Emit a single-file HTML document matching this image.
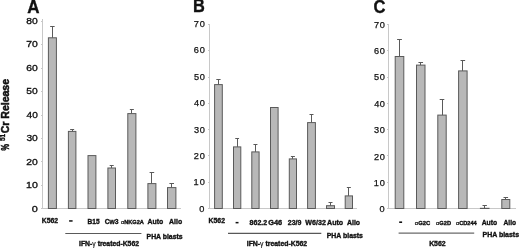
<!DOCTYPE html>
<html><head><meta charset="utf-8"><style>
html,body{margin:0;padding:0;background:#fff;}
body{width:520px;height:250px;overflow:hidden;}
svg{display:block;-webkit-font-smoothing:antialiased;will-change:transform;font-family:"Liberation Sans", sans-serif;}
</style></head><body>
<svg width="520" height="250" viewBox="0 0 520 250">
<rect width="520" height="250" fill="#fff"/>
<text x="27.36" y="12.50" font-size="18.46" font-weight="bold" textLength="12.29" lengthAdjust="spacingAndGlyphs" fill="#111" stroke="#111" stroke-width="0.35">A</text>
<line x1="42.5" y1="19" x2="42.5" y2="208.5" stroke="#c8c8c8" stroke-width="1"/>
<line x1="42.5" y1="208.5" x2="181" y2="208.5" stroke="#c8c8c8" stroke-width="1"/>
<text x="31.76" y="211.50" font-size="9.60" font-weight="normal" textLength="6.05" lengthAdjust="spacingAndGlyphs" fill="#111" stroke="#111" stroke-width="0.35">0</text>
<line x1="41" y1="208.5" x2="43" y2="208.5" stroke="#c8c8c8" stroke-width="1"/>
<text x="25.99" y="188.05" font-size="9.60" font-weight="normal" textLength="11.81" lengthAdjust="spacingAndGlyphs" fill="#111" stroke="#111" stroke-width="0.35">10</text>
<line x1="41" y1="185.5" x2="43" y2="185.5" stroke="#c8c8c8" stroke-width="1"/>
<text x="26.28" y="164.60" font-size="9.60" font-weight="normal" textLength="11.51" lengthAdjust="spacingAndGlyphs" fill="#111" stroke="#111" stroke-width="0.35">20</text>
<line x1="41" y1="161.5" x2="43" y2="161.5" stroke="#c8c8c8" stroke-width="1"/>
<text x="26.41" y="141.15" font-size="9.60" font-weight="normal" textLength="11.38" lengthAdjust="spacingAndGlyphs" fill="#111" stroke="#111" stroke-width="0.35">30</text>
<line x1="41" y1="138.5" x2="43" y2="138.5" stroke="#c8c8c8" stroke-width="1"/>
<text x="26.58" y="117.70" font-size="9.60" font-weight="normal" textLength="11.21" lengthAdjust="spacingAndGlyphs" fill="#111" stroke="#111" stroke-width="0.35">40</text>
<line x1="41" y1="115.5" x2="43" y2="115.5" stroke="#c8c8c8" stroke-width="1"/>
<text x="26.39" y="94.25" font-size="9.60" font-weight="normal" textLength="11.40" lengthAdjust="spacingAndGlyphs" fill="#111" stroke="#111" stroke-width="0.35">50</text>
<line x1="41" y1="91.5" x2="43" y2="91.5" stroke="#c8c8c8" stroke-width="1"/>
<text x="26.28" y="70.80" font-size="9.60" font-weight="normal" textLength="11.51" lengthAdjust="spacingAndGlyphs" fill="#111" stroke="#111" stroke-width="0.35">60</text>
<line x1="41" y1="68.5" x2="43" y2="68.5" stroke="#c8c8c8" stroke-width="1"/>
<text x="26.26" y="47.35" font-size="9.60" font-weight="normal" textLength="11.54" lengthAdjust="spacingAndGlyphs" fill="#111" stroke="#111" stroke-width="0.35">70</text>
<line x1="41" y1="44.5" x2="43" y2="44.5" stroke="#c8c8c8" stroke-width="1"/>
<text x="26.35" y="23.90" font-size="9.60" font-weight="normal" textLength="11.45" lengthAdjust="spacingAndGlyphs" fill="#111" stroke="#111" stroke-width="0.35">80</text>
<line x1="41" y1="21.5" x2="43" y2="21.5" stroke="#c8c8c8" stroke-width="1"/>
<rect x="48.40" y="37.80" width="8.00" height="170.70" fill="#b8b8b8" stroke="#5a5a5a" stroke-width="1"/>
<line x1="52.50" y1="26.50" x2="52.50" y2="37.80" stroke="#5a5a5a" stroke-width="1"/>
<line x1="50.15" y1="26.50" x2="54.65" y2="26.50" stroke="#5a5a5a" stroke-width="1"/>
<rect x="68.40" y="131.40" width="7.50" height="77.10" fill="#b8b8b8" stroke="#5a5a5a" stroke-width="1"/>
<line x1="72.50" y1="129.50" x2="72.50" y2="131.40" stroke="#5a5a5a" stroke-width="1"/>
<line x1="70.15" y1="129.50" x2="74.15" y2="129.50" stroke="#5a5a5a" stroke-width="1"/>
<rect x="88.00" y="155.60" width="7.90" height="52.90" fill="#b8b8b8" stroke="#5a5a5a" stroke-width="1"/>
<rect x="107.90" y="168.00" width="7.60" height="40.50" fill="#b8b8b8" stroke="#5a5a5a" stroke-width="1"/>
<line x1="111.50" y1="165.50" x2="111.50" y2="168.00" stroke="#5a5a5a" stroke-width="1"/>
<line x1="109.70" y1="165.50" x2="113.70" y2="165.50" stroke="#5a5a5a" stroke-width="1"/>
<rect x="127.80" y="113.60" width="8.10" height="94.90" fill="#b8b8b8" stroke="#5a5a5a" stroke-width="1"/>
<line x1="131.50" y1="109.50" x2="131.50" y2="113.60" stroke="#5a5a5a" stroke-width="1"/>
<line x1="129.85" y1="109.50" x2="133.85" y2="109.50" stroke="#5a5a5a" stroke-width="1"/>
<rect x="147.90" y="183.60" width="8.00" height="24.90" fill="#b8b8b8" stroke="#5a5a5a" stroke-width="1"/>
<line x1="151.50" y1="172.50" x2="151.50" y2="183.60" stroke="#5a5a5a" stroke-width="1"/>
<line x1="149.60" y1="172.50" x2="154.20" y2="172.50" stroke="#5a5a5a" stroke-width="1"/>
<rect x="167.50" y="187.60" width="8.40" height="20.90" fill="#b8b8b8" stroke="#5a5a5a" stroke-width="1"/>
<line x1="171.50" y1="183.50" x2="171.50" y2="187.60" stroke="#5a5a5a" stroke-width="1"/>
<line x1="169.40" y1="183.50" x2="174.00" y2="183.50" stroke="#5a5a5a" stroke-width="1"/>
<text transform="translate(8.90,150.58) rotate(-90)" font-size="10.00" font-weight="bold" fill="#111" stroke="#111" stroke-width="0.5" textLength="6.58" lengthAdjust="spacingAndGlyphs">%</text>
<text transform="translate(5.20,141.01) rotate(-90)" font-size="6.80" font-weight="bold" fill="#111" stroke="#111" stroke-width="0.35" textLength="7.19" lengthAdjust="spacingAndGlyphs">51</text>
<text transform="translate(8.90,133.24) rotate(-90)" font-size="10.00" font-weight="bold" fill="#111" stroke="#111" stroke-width="0.5" textLength="54.30" lengthAdjust="spacingAndGlyphs">Cr Release</text>
<text x="41.85" y="223.20" font-size="7.00" font-weight="bold" textLength="16.33" lengthAdjust="spacingAndGlyphs" fill="#111" stroke="#111" stroke-width="0.35">K562</text>
<rect x="69.1" y="220.2" width="3.5" height="1.5" fill="#111"/>
<text x="87.57" y="224.00" font-size="7.00" font-weight="bold" textLength="12.02" lengthAdjust="spacingAndGlyphs" fill="#111" stroke="#111" stroke-width="0.35">B15</text>
<text x="104.72" y="224.00" font-size="7.00" font-weight="bold" textLength="13.93" lengthAdjust="spacingAndGlyphs" fill="#111" stroke="#111" stroke-width="0.35">Cw3</text>
<text x="120.98" y="223.60" font-size="5.20" font-weight="bold" textLength="22.86" lengthAdjust="spacingAndGlyphs" fill="#111" stroke="#111" stroke-width="0.35"><tspan font-weight="normal" stroke-width="0.2">&#945;</tspan>NKG2A</text>
<text x="147.52" y="224.00" font-size="7.00" font-weight="bold" textLength="15.75" lengthAdjust="spacingAndGlyphs" fill="#111" stroke="#111" stroke-width="0.35">Auto</text>
<text x="169.12" y="224.00" font-size="7.00" font-weight="bold" textLength="13.05" lengthAdjust="spacingAndGlyphs" fill="#111" stroke="#111" stroke-width="0.35">Allo</text>
<line x1="65.3" y1="233.5" x2="141.4" y2="233.5" stroke="#5a5a5a" stroke-width="1.2"/>
<text x="79.05" y="246.40" font-size="6.60" font-weight="bold" textLength="59.92" lengthAdjust="spacingAndGlyphs" fill="#111" stroke="#111" stroke-width="0.35">IFN-<tspan font-weight="normal" stroke-width="0.15">&#947;</tspan> treated-K562</text>
<text x="146.55" y="238.50" font-size="6.80" font-weight="bold" textLength="36.03" lengthAdjust="spacingAndGlyphs" fill="#111" stroke="#111" stroke-width="0.35">PHA blasts</text>
<text x="192.92" y="12.40" font-size="18.17" font-weight="bold" textLength="11.84" lengthAdjust="spacingAndGlyphs" fill="#111" stroke="#111" stroke-width="0.35">B</text>
<line x1="209.5" y1="24" x2="209.5" y2="208.5" stroke="#c8c8c8" stroke-width="1"/>
<line x1="209.5" y1="208.5" x2="357" y2="208.5" stroke="#c8c8c8" stroke-width="1"/>
<text x="199.33" y="211.80" font-size="9.20" font-weight="normal" letter-spacing="0.40" fill="#111" stroke="#111" stroke-width="0.25">0</text>
<line x1="208" y1="208.5" x2="210" y2="208.5" stroke="#c8c8c8" stroke-width="1"/>
<text x="193.60" y="185.40" font-size="9.20" font-weight="normal" letter-spacing="1.02" fill="#111" stroke="#111" stroke-width="0.25">10</text>
<line x1="208" y1="182.5" x2="210" y2="182.5" stroke="#c8c8c8" stroke-width="1"/>
<text x="193.84" y="159.00" font-size="9.20" font-weight="normal" letter-spacing="0.78" fill="#111" stroke="#111" stroke-width="0.25">20</text>
<line x1="208" y1="155.5" x2="210" y2="155.5" stroke="#c8c8c8" stroke-width="1"/>
<text x="193.95" y="132.60" font-size="9.20" font-weight="normal" letter-spacing="0.67" fill="#111" stroke="#111" stroke-width="0.25">30</text>
<line x1="208" y1="129.5" x2="210" y2="129.5" stroke="#c8c8c8" stroke-width="1"/>
<text x="194.10" y="106.20" font-size="9.20" font-weight="normal" letter-spacing="0.52" fill="#111" stroke="#111" stroke-width="0.25">40</text>
<line x1="208" y1="103.5" x2="210" y2="103.5" stroke="#c8c8c8" stroke-width="1"/>
<text x="193.93" y="79.80" font-size="9.20" font-weight="normal" letter-spacing="0.69" fill="#111" stroke="#111" stroke-width="0.25">50</text>
<line x1="208" y1="77.5" x2="210" y2="77.5" stroke="#c8c8c8" stroke-width="1"/>
<text x="193.84" y="53.40" font-size="9.20" font-weight="normal" letter-spacing="0.78" fill="#111" stroke="#111" stroke-width="0.25">60</text>
<line x1="208" y1="50.5" x2="210" y2="50.5" stroke="#c8c8c8" stroke-width="1"/>
<text x="193.82" y="27.00" font-size="9.20" font-weight="normal" letter-spacing="0.80" fill="#111" stroke="#111" stroke-width="0.25">70</text>
<line x1="208" y1="24.5" x2="210" y2="24.5" stroke="#c8c8c8" stroke-width="1"/>
<rect x="214.60" y="84.60" width="7.70" height="123.90" fill="#b8b8b8" stroke="#5a5a5a" stroke-width="1"/>
<line x1="218.50" y1="79.50" x2="218.50" y2="84.60" stroke="#5a5a5a" stroke-width="1"/>
<line x1="216.30" y1="79.50" x2="220.60" y2="79.50" stroke="#5a5a5a" stroke-width="1"/>
<rect x="233.50" y="146.90" width="7.30" height="61.60" fill="#b8b8b8" stroke="#5a5a5a" stroke-width="1"/>
<line x1="237.50" y1="138.50" x2="237.50" y2="146.90" stroke="#5a5a5a" stroke-width="1"/>
<line x1="235.25" y1="138.50" x2="239.05" y2="138.50" stroke="#5a5a5a" stroke-width="1"/>
<rect x="251.80" y="151.90" width="7.30" height="56.60" fill="#b8b8b8" stroke="#5a5a5a" stroke-width="1"/>
<line x1="255.50" y1="144.50" x2="255.50" y2="151.90" stroke="#5a5a5a" stroke-width="1"/>
<line x1="253.45" y1="144.50" x2="257.45" y2="144.50" stroke="#5a5a5a" stroke-width="1"/>
<rect x="270.50" y="107.50" width="7.60" height="101.00" fill="#b8b8b8" stroke="#5a5a5a" stroke-width="1"/>
<rect x="289.30" y="158.90" width="7.20" height="49.60" fill="#b8b8b8" stroke="#5a5a5a" stroke-width="1"/>
<line x1="292.50" y1="156.50" x2="292.50" y2="158.90" stroke="#5a5a5a" stroke-width="1"/>
<line x1="290.90" y1="156.50" x2="294.90" y2="156.50" stroke="#5a5a5a" stroke-width="1"/>
<rect x="307.60" y="122.60" width="7.80" height="85.90" fill="#b8b8b8" stroke="#5a5a5a" stroke-width="1"/>
<line x1="311.50" y1="114.50" x2="311.50" y2="122.60" stroke="#5a5a5a" stroke-width="1"/>
<line x1="309.50" y1="114.50" x2="313.50" y2="114.50" stroke="#5a5a5a" stroke-width="1"/>
<rect x="326.50" y="205.70" width="8.00" height="2.80" fill="#b8b8b8" stroke="#5a5a5a" stroke-width="1"/>
<line x1="330.50" y1="202.50" x2="330.50" y2="205.70" stroke="#5a5a5a" stroke-width="1"/>
<line x1="328.50" y1="202.50" x2="332.50" y2="202.50" stroke="#5a5a5a" stroke-width="1"/>
<rect x="345.20" y="195.90" width="7.30" height="12.60" fill="#b8b8b8" stroke="#5a5a5a" stroke-width="1"/>
<line x1="348.50" y1="187.50" x2="348.50" y2="195.90" stroke="#5a5a5a" stroke-width="1"/>
<line x1="346.85" y1="187.50" x2="350.85" y2="187.50" stroke="#5a5a5a" stroke-width="1"/>
<text x="208.55" y="223.20" font-size="7.00" font-weight="bold" textLength="16.43" lengthAdjust="spacingAndGlyphs" fill="#111" stroke="#111" stroke-width="0.35">K562</text>
<rect x="235.6" y="221.9" width="2.9" height="1.5" fill="#111"/>
<text x="249.57" y="225.20" font-size="7.00" font-weight="bold" textLength="17.61" lengthAdjust="spacingAndGlyphs" fill="#111" stroke="#111" stroke-width="0.35">862.2</text>
<text x="268.19" y="225.20" font-size="7.00" font-weight="bold" textLength="13.98" lengthAdjust="spacingAndGlyphs" fill="#111" stroke="#111" stroke-width="0.35">G46</text>
<text x="287.76" y="225.20" font-size="7.00" font-weight="bold" textLength="13.59" lengthAdjust="spacingAndGlyphs" fill="#111" stroke="#111" stroke-width="0.35">23/9</text>
<text x="305.39" y="225.20" font-size="7.00" font-weight="bold" textLength="20.50" lengthAdjust="spacingAndGlyphs" fill="#111" stroke="#111" stroke-width="0.35">W6/32</text>
<text x="327.02" y="225.20" font-size="7.00" font-weight="bold" textLength="16.16" lengthAdjust="spacingAndGlyphs" fill="#111" stroke="#111" stroke-width="0.35">Auto</text>
<text x="347.02" y="225.20" font-size="7.00" font-weight="bold" textLength="13.05" lengthAdjust="spacingAndGlyphs" fill="#111" stroke="#111" stroke-width="0.35">Allo</text>
<line x1="228" y1="233.4" x2="321.3" y2="233.4" stroke="#585858" stroke-width="1.2"/>
<text x="246.75" y="246.40" font-size="6.60" font-weight="bold" textLength="60.42" lengthAdjust="spacingAndGlyphs" fill="#111" stroke="#111" stroke-width="0.35">IFN-<tspan font-weight="normal" stroke-width="0.15">&#947;</tspan> treated-K562</text>
<text x="326.74" y="237.90" font-size="6.80" font-weight="bold" textLength="36.23" lengthAdjust="spacingAndGlyphs" fill="#111" stroke="#111" stroke-width="0.35">PHA blasts</text>
<text x="373.60" y="12.90" font-size="17.48" font-weight="bold" textLength="11.96" lengthAdjust="spacingAndGlyphs" fill="#111" stroke="#111" stroke-width="0.35">C</text>
<line x1="388.5" y1="24" x2="388.5" y2="208.5" stroke="#c8c8c8" stroke-width="1"/>
<line x1="388.5" y1="208.5" x2="516" y2="208.5" stroke="#c8c8c8" stroke-width="1"/>
<text x="379.43" y="212.30" font-size="9.20" font-weight="normal" letter-spacing="0.40" fill="#111" stroke="#111" stroke-width="0.25">0</text>
<line x1="387" y1="208.5" x2="389" y2="208.5" stroke="#c8c8c8" stroke-width="1"/>
<text x="373.70" y="185.90" font-size="9.20" font-weight="normal" letter-spacing="1.02" fill="#111" stroke="#111" stroke-width="0.25">10</text>
<line x1="387" y1="182.5" x2="389" y2="182.5" stroke="#c8c8c8" stroke-width="1"/>
<text x="373.94" y="159.50" font-size="9.20" font-weight="normal" letter-spacing="0.78" fill="#111" stroke="#111" stroke-width="0.25">20</text>
<line x1="387" y1="155.5" x2="389" y2="155.5" stroke="#c8c8c8" stroke-width="1"/>
<text x="374.05" y="133.10" font-size="9.20" font-weight="normal" letter-spacing="0.67" fill="#111" stroke="#111" stroke-width="0.25">30</text>
<line x1="387" y1="129.5" x2="389" y2="129.5" stroke="#c8c8c8" stroke-width="1"/>
<text x="374.20" y="106.70" font-size="9.20" font-weight="normal" letter-spacing="0.52" fill="#111" stroke="#111" stroke-width="0.25">40</text>
<line x1="387" y1="103.5" x2="389" y2="103.5" stroke="#c8c8c8" stroke-width="1"/>
<text x="374.03" y="80.30" font-size="9.20" font-weight="normal" letter-spacing="0.69" fill="#111" stroke="#111" stroke-width="0.25">50</text>
<line x1="387" y1="77.5" x2="389" y2="77.5" stroke="#c8c8c8" stroke-width="1"/>
<text x="373.94" y="53.90" font-size="9.20" font-weight="normal" letter-spacing="0.78" fill="#111" stroke="#111" stroke-width="0.25">60</text>
<line x1="387" y1="50.5" x2="389" y2="50.5" stroke="#c8c8c8" stroke-width="1"/>
<text x="373.92" y="27.50" font-size="9.20" font-weight="normal" letter-spacing="0.80" fill="#111" stroke="#111" stroke-width="0.25">70</text>
<line x1="387" y1="24.5" x2="389" y2="24.5" stroke="#c8c8c8" stroke-width="1"/>
<rect x="395.20" y="56.50" width="8.60" height="152.00" fill="#b8b8b8" stroke="#5a5a5a" stroke-width="1"/>
<line x1="399.50" y1="39.50" x2="399.50" y2="56.50" stroke="#5a5a5a" stroke-width="1"/>
<line x1="397.10" y1="39.50" x2="401.90" y2="39.50" stroke="#5a5a5a" stroke-width="1"/>
<rect x="416.50" y="65.10" width="8.50" height="143.40" fill="#b8b8b8" stroke="#5a5a5a" stroke-width="1"/>
<line x1="420.50" y1="62.50" x2="420.50" y2="65.10" stroke="#5a5a5a" stroke-width="1"/>
<line x1="418.45" y1="62.50" x2="423.05" y2="62.50" stroke="#5a5a5a" stroke-width="1"/>
<rect x="437.80" y="115.10" width="8.40" height="93.40" fill="#b8b8b8" stroke="#5a5a5a" stroke-width="1"/>
<line x1="442.50" y1="99.50" x2="442.50" y2="115.10" stroke="#5a5a5a" stroke-width="1"/>
<line x1="439.70" y1="99.50" x2="444.30" y2="99.50" stroke="#5a5a5a" stroke-width="1"/>
<rect x="458.60" y="70.90" width="8.50" height="137.60" fill="#b8b8b8" stroke="#5a5a5a" stroke-width="1"/>
<line x1="462.50" y1="60.50" x2="462.50" y2="70.90" stroke="#5a5a5a" stroke-width="1"/>
<line x1="460.55" y1="60.50" x2="465.15" y2="60.50" stroke="#5a5a5a" stroke-width="1"/>
<rect x="480.40" y="208.30" width="8.60" height="0.20" fill="#b8b8b8" stroke="#5a5a5a" stroke-width="1"/>
<line x1="484.50" y1="205.50" x2="484.50" y2="208.30" stroke="#5a5a5a" stroke-width="1"/>
<line x1="482.50" y1="205.50" x2="486.90" y2="205.50" stroke="#5a5a5a" stroke-width="1"/>
<rect x="501.80" y="199.50" width="8.00" height="9.00" fill="#b8b8b8" stroke="#5a5a5a" stroke-width="1"/>
<line x1="505.50" y1="197.50" x2="505.50" y2="199.50" stroke="#5a5a5a" stroke-width="1"/>
<line x1="503.50" y1="197.50" x2="508.10" y2="197.50" stroke="#5a5a5a" stroke-width="1"/>
<rect x="399.2" y="221.4" width="2.9" height="1.6" fill="#111"/>
<text x="414.77" y="225.00" font-size="5.20" font-weight="bold" textLength="15.40" lengthAdjust="spacingAndGlyphs" fill="#111" stroke="#111" stroke-width="0.35"><tspan font-weight="normal" stroke-width="0.2">&#945;</tspan>G2C</text>
<text x="436.08" y="225.00" font-size="5.20" font-weight="bold" textLength="14.96" lengthAdjust="spacingAndGlyphs" fill="#111" stroke="#111" stroke-width="0.35"><tspan font-weight="normal" stroke-width="0.2">&#945;</tspan>G2D</text>
<text x="455.98" y="225.00" font-size="5.20" font-weight="bold" textLength="20.75" lengthAdjust="spacingAndGlyphs" fill="#111" stroke="#111" stroke-width="0.35"><tspan font-weight="normal" stroke-width="0.2">&#945;</tspan>CD244</text>
<text x="481.72" y="224.80" font-size="7.00" font-weight="bold" textLength="15.44" lengthAdjust="spacingAndGlyphs" fill="#111" stroke="#111" stroke-width="0.35">Auto</text>
<text x="503.53" y="224.80" font-size="7.00" font-weight="bold" textLength="12.53" lengthAdjust="spacingAndGlyphs" fill="#111" stroke="#111" stroke-width="0.35">Allo</text>
<line x1="398.6" y1="233.1" x2="474.2" y2="233.1" stroke="#6a6a6a" stroke-width="1.3"/>
<text x="482.54" y="237.40" font-size="6.80" font-weight="bold" textLength="36.54" lengthAdjust="spacingAndGlyphs" fill="#111" stroke="#111" stroke-width="0.35">PHA blasts</text>
<text x="429.14" y="246.30" font-size="7.00" font-weight="bold" textLength="16.54" lengthAdjust="spacingAndGlyphs" fill="#111" stroke="#111" stroke-width="0.35">K562</text>
</svg>
</body></html>
